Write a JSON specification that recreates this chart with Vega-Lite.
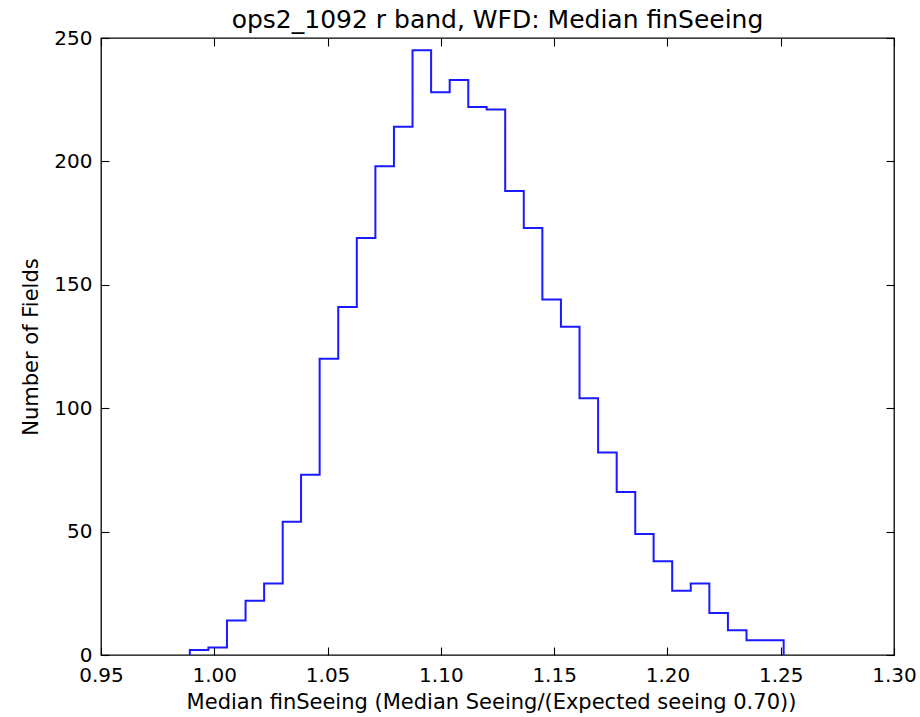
{
  "$schema": "https://vega.github.io/schema/vega-lite/v6.json",
  "width": 793,
  "height": 617,
  "autosize": "none",
  "padding": {"left": 101, "top": 38, "right": 26, "bottom": 62},
  "background": "white",
  "title": {
    "text": "ops2_1092 r band, WFD: Median finSeeing",
    "font": "DejaVu Sans",
    "fontSize": 25,
    "fontWeight": "normal",
    "color": "#000000",
    "offset": -5,
    "anchor": "middle"
  },
  "config": {
    "view": {"stroke": "#000000", "strokeWidth": 1.3},
    "axis": {
      "domain": false,
      "grid": false,
      "tickColor": "#000000",
      "tickWidth": 1.1,
      "tickSize": -8,
      "labelFlush": false,
      "labelOverlap": false,
      "labelFont": "DejaVu Sans",
      "labelFontSize": 20,
      "labelColor": "#000000",
      "titleFont": "DejaVu Sans",
      "titleFontSize": 21,
      "titleFontWeight": "normal",
      "titleColor": "#000000"
    }
  },
  "data": {
    "values": [
      {"lo": 0.9892, "count": 0},
      {"lo": 0.9892, "count": 2},
      {"lo": 0.9974, "count": 3},
      {"lo": 1.0056, "count": 14},
      {"lo": 1.0138, "count": 22},
      {"lo": 1.0220, "count": 29},
      {"lo": 1.0302, "count": 54},
      {"lo": 1.0383, "count": 73},
      {"lo": 1.0465, "count": 120},
      {"lo": 1.0547, "count": 141},
      {"lo": 1.0629, "count": 169},
      {"lo": 1.0711, "count": 198},
      {"lo": 1.0793, "count": 214},
      {"lo": 1.0875, "count": 245},
      {"lo": 1.0957, "count": 228},
      {"lo": 1.1039, "count": 233},
      {"lo": 1.1121, "count": 222},
      {"lo": 1.1202, "count": 221},
      {"lo": 1.1284, "count": 188},
      {"lo": 1.1366, "count": 173},
      {"lo": 1.1448, "count": 144},
      {"lo": 1.1530, "count": 133},
      {"lo": 1.1612, "count": 104},
      {"lo": 1.1694, "count": 82},
      {"lo": 1.1776, "count": 66},
      {"lo": 1.1858, "count": 49},
      {"lo": 1.1939, "count": 38},
      {"lo": 1.2021, "count": 26},
      {"lo": 1.2103, "count": 29},
      {"lo": 1.2185, "count": 17},
      {"lo": 1.2267, "count": 10},
      {"lo": 1.2349, "count": 6},
      {"lo": 1.2431, "count": 6},
      {"lo": 1.2513, "count": 0}
    ]
  },
  "layer": [
    {
      "mark": {"type": "line", "interpolate": "step-after", "color": "#1a1aff", "strokeWidth": 2},
      "encoding": {
        "x": {
          "field": "lo", "type": "quantitative",
          "scale": {"domain": [0.95, 1.30], "nice": false, "zero": false},
          "axis": {
            "orient": "bottom",
            "values": [0.95, 1.0, 1.05, 1.1, 1.15, 1.2, 1.25, 1.3],
            "format": ".2f",
            "labelPadding": 18,
            "title": "Median finSeeing (Median Seeing/(Expected seeing 0.70))",
            "titleX": 390,
            "titlePadding": 6
          }
        },
        "y": {
          "field": "count", "type": "quantitative",
          "scale": {"domain": [0, 250], "nice": false},
          "axis": {
            "orient": "left",
            "values": [0, 50, 100, 150, 200, 250],
            "labelPadding": 17,
            "title": "Number of Fields",
            "titlePadding": 12
          }
        },
        "order": {"value": null}
      }
    },
    {
      "mark": {"type": "line", "interpolate": "step-after", "opacity": 0},
      "encoding": {
        "x": {
          "field": "lo", "type": "quantitative",
          "axis": {"orient": "top", "values": [0.95, 1.0, 1.05, 1.1, 1.15, 1.2, 1.25, 1.3], "labels": false, "title": null}
        },
        "y": {
          "field": "count", "type": "quantitative",
          "axis": {"orient": "right", "values": [0, 50, 100, 150, 200, 250], "labels": false, "title": null}
        },
        "order": {"value": null}
      }
    }
  ],
  "resolve": {"axis": {"x": "independent", "y": "independent"}}
}
